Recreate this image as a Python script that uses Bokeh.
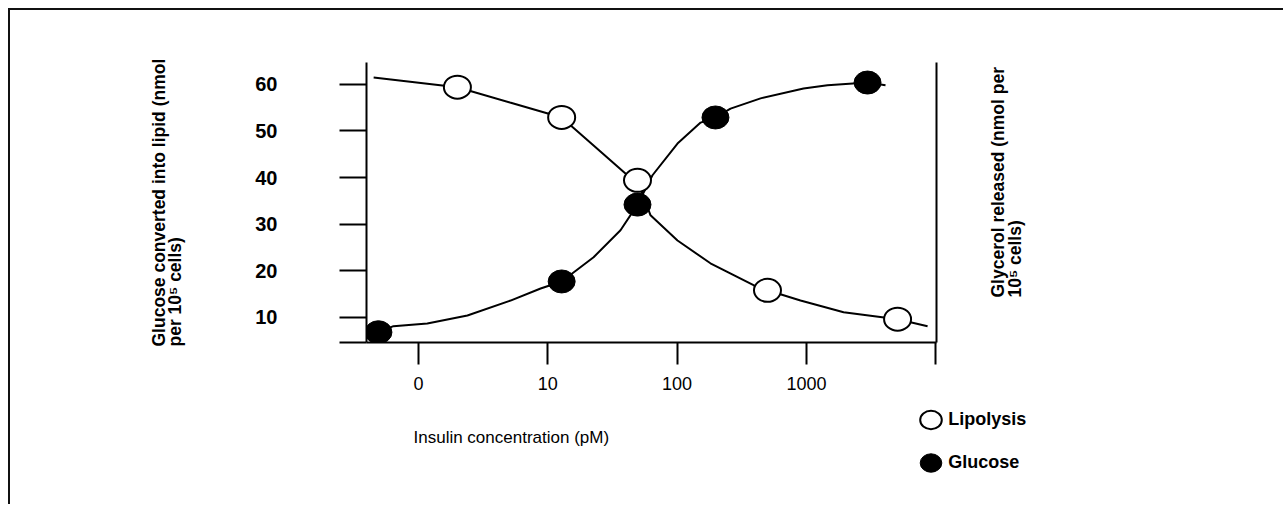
from math import pi
from bokeh.plotting import figure
from bokeh.models import Range1d, FixedTicker, LinearAxis, Label, Legend, LegendItem
from bokeh.embed import file_html
from bokeh.resources import INLINE

# ---- data (insulin concentration in pM) ----
lipolysis_conc = [2.0, 12.8, 49.4, 500, 5070]
lipolysis_val = [59.4, 52.9, 39.4, 15.8, 9.6]
glucose_conc = [0.49, 12.8, 49.4, 198, 2970]
glucose_val = [6.8, 17.7, 34.2, 52.9, 60.4]

# fitted curves
lipolysis_curve_conc = [0.45, 2.0, 5.1, 12.8, 22.6, 41.3, 49.4, 62.3, 100.7, 181, 390, 500, 900, 1940, 5070, 8650]
lipolysis_curve_val = [61.5, 59.4, 56.1, 52.9, 46.9, 40.5, 39.4, 31.9, 26.5, 21.6, 16.9, 15.8, 13.6, 11.1, 9.6, 8.1]
glucose_curve_conc = [0.49, 0.64, 1.17, 2.39, 5.15, 8.8, 12.8, 22.6, 36.5, 49.4, 64.5, 100.7, 152, 198, 259, 442, 950, 1455, 2970, 4090]
glucose_curve_val = [6.8, 8.1, 8.7, 10.4, 13.6, 16.2, 17.7, 22.9, 28.7, 34.2, 40.5, 47.3, 51.8, 52.9, 54.8, 57.0, 59.1, 59.8, 60.4, 59.8]

y_ticks = [10, 20, 30, 40, 50, 60]
y_base = 4.6
y_top = 64.7
x_ticks = [1, 10, 100, 1000, 10000]
x_tick_labels = ["0", "10", "100", "1000", ""]

FONT = "Liberation Sans"

p = figure(frame_width=570, frame_height=280,
           min_border_left=356, min_border_right=344,
           min_border_top=52, min_border_bottom=162,
           x_axis_type="log",
           x_range=Range1d(10 ** -0.402, 10 ** 4.006),
           y_range=Range1d(y_base, y_top),
           output_backend="svg", toolbar_location=None)
p.styles = {"margin": "8px 0 0 8px",
            "border-top": "2px solid #111", "border-left": "2px solid #111"}
p.grid.visible = False
p.outline_line_color = None
p.background_fill_color = "white"
p.border_fill_color = "white"

# left axis
ya = p.yaxis[0]
ya.ticker = FixedTicker(ticks=[y_base] + y_ticks)
ya.major_label_overrides = {y_base: ""}
ya.major_tick_out = 27
ya.major_tick_in = 0
ya.minor_tick_line_color = None
ya.axis_line_width = 2
ya.major_tick_line_width = 2
ya.major_label_standoff = 62
ya.major_label_text_font = FONT
ya.major_label_text_font_size = "20px"
ya.major_label_text_font_style = "bold"
ya.major_label_text_color = "black"

# bottom axis
xa = p.xaxis[0]
xa.ticker = FixedTicker(ticks=x_ticks)
xa.major_label_overrides = {t: l for t, l in zip(x_ticks, x_tick_labels)}
xa.major_tick_out = 22
xa.major_tick_in = 0
xa.minor_tick_line_color = None
xa.axis_line_width = 2
xa.major_tick_line_width = 2
xa.major_label_standoff = 12
xa.major_label_text_font = FONT
xa.major_label_text_font_size = "18px"
xa.major_label_text_color = "black"

# right axis (line only)
ra = LinearAxis(ticker=FixedTicker(ticks=[]), axis_line_width=2,
                major_label_text_font_size="0px", minor_tick_line_color=None)
p.add_layout(ra, "right")

# curves
p.line(lipolysis_curve_conc, lipolysis_curve_val, line_color="black", line_width=2)
p.line(glucose_curve_conc, glucose_curve_val, line_color="black", line_width=2)

# markers
r_glu = p.ellipse(glucose_conc, glucose_val, width=27, height=23,
                  width_units="screen", height_units="screen",
                  fill_color="black", line_color="black", line_width=1)
r_lip = p.ellipse(lipolysis_conc, lipolysis_val, width=27, height=23,
                  width_units="screen", height_units="screen",
                  fill_color="white", line_color="black", line_width=2)


def title(text, x, y, side, angle=0.0, bold=True, size="17.5px"):
    p.add_layout(Label(x=x, y=y, x_units="screen", y_units="screen", text=text,
                       angle=angle, text_align="left", text_baseline="middle",
                       text_font=FONT, text_font_size=size,
                       text_font_style="bold" if bold else "normal",
                       text_color="black"), side)


# left-hand titles (side panel, so they are not clipped to the frame)
title("Glucose converted into lipid (nmol", -74, -4, "left", pi / 2)
title("per 10\u2075 cells)", -38, -4, "left", pi / 2)
# right-hand titles
title("Glycerol released (nmol per", 61, 45, "right", pi / 2)
title("10\u2075 cells)", 58, 45, "right", pi / 2)
# x title
title("Insulin concentration (pM)", 47, -26, "below", 0.0, bold=False, size="17px")

legend = Legend(items=[LegendItem(label="Lipolysis", renderers=[r_lip]),
                       LegendItem(label="Glucose", renderers=[r_glu])],
                location=(-415, -134), glyph_width=27, glyph_height=27,
                label_standoff=4, spacing=16, padding=0, margin=0,
                border_line_color=None, background_fill_alpha=0,
                label_text_font=FONT, label_text_font_size="18px",
                label_text_font_style="bold", label_text_color="black")
p.add_layout(legend, "right")

open("out.html", "w").write(file_html(p, INLINE))
